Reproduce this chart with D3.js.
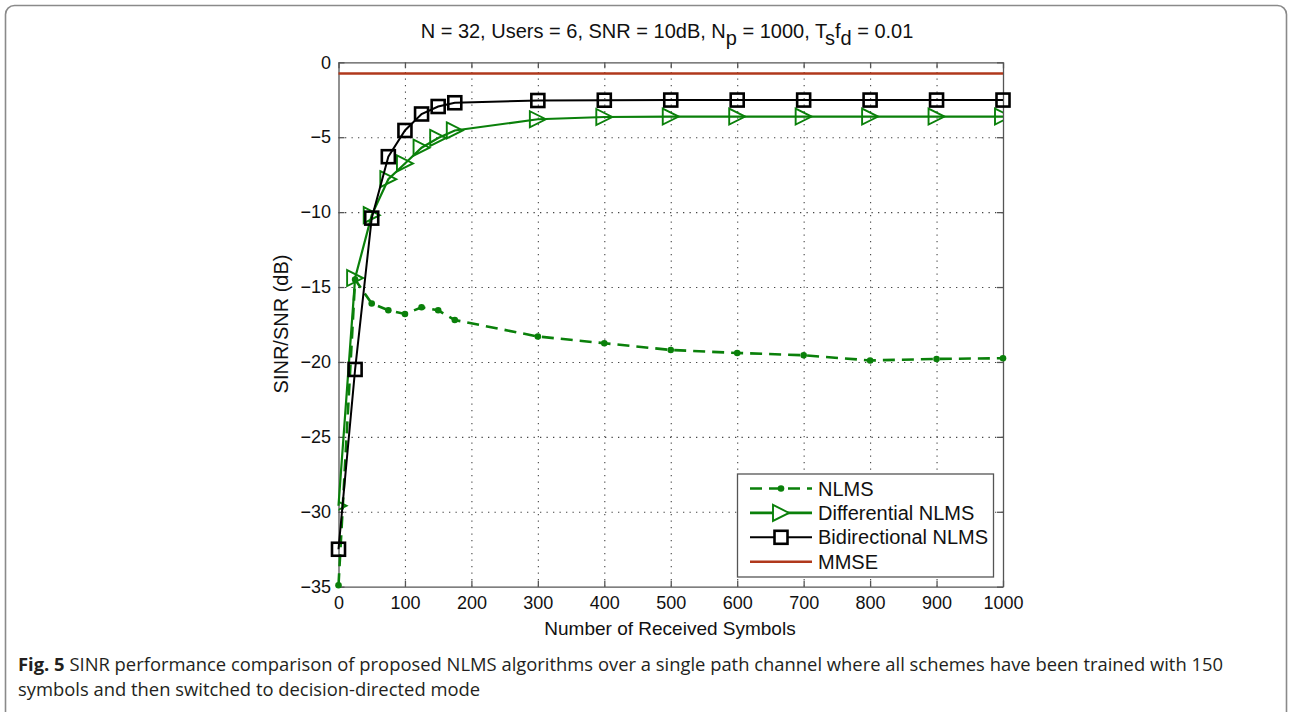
<!DOCTYPE html>
<html>
<head>
  <meta charset="utf-8">
  <title>SINR performance of NLMS algorithms</title>
  <script src="https://d3js.org/d3.v7.min.js"></script>
  <style type="text/css">
    html, body { margin: 0; padding: 0; background: #fff; }
  </style>
</head>
<body>
  <div id="chart"></div>

  <script>
    // received symbols at which SINR was measured
    var symbols = [0, 25, 50, 75, 100, 125, 150, 175, 300, 400, 500, 600, 700, 800, 900, 1000];
    // SINR/SNR in dB for each scheme
    var nlms = [-34.9, -14.5, -16.1, -16.55, -16.8, -16.35, -16.55, -17.2, -18.3, -18.75, -19.2, -19.4, -19.55, -19.9, -19.8, -19.75];
    var diffNlms = [-29.6, -14.4, -10.2, -7.8, -6.75, -5.7, -5.05, -4.55, -3.8, -3.65, -3.62, -3.62, -3.62, -3.62, -3.62, -3.62];
    var bidirNlms = [-32.5, -20.5, -10.4, -6.3, -4.55, -3.45, -2.95, -2.7, -2.55, -2.53, -2.52, -2.52, -2.52, -2.52, -2.52, -2.52];
    var mmse = -0.75;

    var xTicks = [0, 100, 200, 300, 400, 500, 600, 700, 800, 900, 1000];
    var yTicks = [0, -5, -10, -15, -20, -25, -30, -35];
    var legendLabels = ["NLMS", "Differential NLMS", "Bidirectional NLMS", "MMSE"];

    var W = 1291, H = 712;
    var m = { left: 338.5, top: 62.3, right: 1003, bottom: 586.7 };
    var green = "#0a800a", red = "#b0381c";
    var sans = "'Liberation Sans', Arial, sans-serif";

    var svg = d3.select("#chart").append("svg")
      .attr("width", W).attr("height", H)
      .style("font-family", sans);

    // outer frame of the figure
    svg.append("rect")
      .attr("x", 5.5).attr("y", 5.5)
      .attr("width", 1281).attr("height", 740)
      .attr("rx", 9)
      .attr("fill", "none").attr("stroke", "#8a8a8a").attr("stroke-width", 1.6);

    var x = d3.scaleLinear().domain([0, 1000]).range([m.left, m.right]);
    var y = d3.scaleLinear().domain([-35, 0]).range([m.bottom, m.top]);
    var pw = m.right - m.left, ph = m.bottom - m.top;

    svg.append("clipPath").attr("id", "plotclip")
      .append("rect").attr("x", m.left).attr("y", m.top).attr("width", pw).attr("height", ph);

    //网格
    svg.append("g")
      .attr("transform", "translate(0," + m.bottom + ")")
      .call(d3.axisBottom(x).tickValues(xTicks.slice(1, -1)).tickSize(-ph).tickFormat(""))
      .call(g => g.select(".domain").remove())
      .selectAll("line")
      .attr("stroke", "#444").attr("stroke-width", 1.1).attr("stroke-dasharray", "1.3,5.2");
    svg.append("g")
      .attr("transform", "translate(" + m.left + ",0)")
      .call(d3.axisLeft(y).tickValues(yTicks.slice(1, -1)).tickSize(-pw).tickFormat(""))
      .call(g => g.select(".domain").remove())
      .selectAll("line")
      .attr("stroke", "#444").attr("stroke-width", 1.1).attr("stroke-dasharray", "1.3,5.2");

    // box axes with inward ticks
    var fmt = d => (d < 0 ? "\u2212" + Math.abs(d) : d);
    var axes = [
      { a: d3.axisBottom(x).tickValues(xTicks).tickFormat(fmt).tickPadding(10), t: "translate(0," + m.bottom + ")" },
      { a: d3.axisTop(x).tickValues(xTicks).tickFormat(""), t: "translate(0," + m.top + ")" },
      { a: d3.axisLeft(y).tickValues(yTicks).tickFormat(fmt).tickPadding(7.5), t: "translate(" + m.left + ",0)" },
      { a: d3.axisRight(y).tickValues(yTicks).tickFormat(""), t: "translate(" + m.right + ",0)" }
    ];
    axes.forEach(function (ax) {
      var g = svg.append("g").attr("transform", ax.t)
        .call(ax.a.tickSizeInner(-6).tickSizeOuter(0));
      g.attr("font-family", null).attr("font-size", null);
      g.select(".domain").attr("stroke", "#555").attr("stroke-width", 1.3);
      g.selectAll("line").attr("stroke", "#555").attr("stroke-width", 1.3);
      g.selectAll("text").style("font-size", "18px").attr("fill", "#111");
    });

    var plot = svg.append("g");
    var line = d3.line().x(d => x(d[0])).y(d => y(d[1]));
    var pts = vals => symbols.map((s, i) => [s, vals[i]]);

    // MMSE bound
    plot.append("path")
      .attr("d", line([[0, mmse], [1000, mmse]]))
      .attr("fill", "none").attr("stroke", red).attr("stroke-width", 2.6);

    // NLMS, dashed with dots
    plot.append("path")
      .attr("d", line(pts(nlms)))
      .attr("fill", "none").attr("stroke", green).attr("stroke-width", 2.6)
      .attr("stroke-dasharray", "12,7");
    plot.selectAll(".nlms-dot")
      .data(pts(nlms))
      .join("circle")
      .attr("class", "nlms-dot")
      .attr("cx", d => x(d[0])).attr("cy", d => y(d[1])).attr("r", 3.3)
      .attr("fill", green);

    // differential NLMS with right triangles
    var tri = function (cx, cy, s) {
      return "M" + (cx - s) + "," + (cy - s) + "L" + (cx + s) + "," + cy + "L" + (cx - s) + "," + (cy + s) + "Z";
    };
    plot.append("path")
      .attr("d", line(pts(diffNlms)))
      .attr("fill", "none").attr("stroke", green).attr("stroke-width", 2.2);
    plot.append("g").attr("clip-path", "url(#plotclip)")
      .selectAll("path")
      .data(pts(diffNlms))
      .join("path")
      .attr("d", d => tri(x(d[0]), y(d[1]), 8))
      .attr("fill", "none").attr("stroke", green).attr("stroke-width", 1.9);

    // bidirectional NLMS with squares
    plot.append("path")
      .attr("d", line(pts(bidirNlms)))
      .attr("fill", "none").attr("stroke", "#000").attr("stroke-width", 2);
    plot.selectAll(".bi-sq")
      .data(pts(bidirNlms))
      .join("rect")
      .attr("class", "bi-sq")
      .attr("x", d => x(d[0]) - 6.5).attr("y", d => y(d[1]) - 6.5)
      .attr("width", 13).attr("height", 13)
      .attr("fill", "none").attr("stroke", "#000").attr("stroke-width", 2.6);

    // legend
    var lg = svg.append("g");
    lg.append("rect")
      .attr("x", 737.5).attr("y", 474).attr("width", 256).attr("height", 103)
      .attr("fill", "#fff").attr("stroke", "#555").attr("stroke-width", 1.3);
    var rowY = d3.scalePoint().domain(legendLabels).range([488.5, 561.7]);
    var lx0 = 750, lx1 = 812, lxm = (lx0 + lx1) / 2;
    legendLabels.forEach(function (lab, i) {
      var yy = rowY(lab);
      var col = i < 2 ? green : (i === 2 ? "#000" : red);
      var seg = lg.append("line")
        .attr("x1", lx0).attr("x2", lx1).attr("y1", yy).attr("y2", yy)
        .attr("stroke", col).attr("stroke-width", i === 2 ? 2 : 2.6);
      if (i === 0) {
        seg.attr("stroke-dasharray", "12,7");
        lg.append("circle").attr("cx", lxm).attr("cy", yy).attr("r", 3.3).attr("fill", green);
      }
      if (i === 1) {
        lg.append("path").attr("d", tri(lxm, yy, 8)).attr("fill", "#fff")
          .attr("stroke", green).attr("stroke-width", 1.9);
      }
      if (i === 2) {
        lg.append("rect").attr("x", lxm - 6.5).attr("y", yy - 6.5).attr("width", 13).attr("height", 13)
          .attr("fill", "#fff").attr("stroke", "#000").attr("stroke-width", 2.6);
      }
      lg.append("text")
        .attr("x", 818).attr("y", yy + 7)
        .style("font-size", "20px")
        .attr("fill", "#111")
        .text(lab);
    });

    // title with subscripts
    var title = svg.append("text")
      .attr("x", 667).attr("y", 38)
      .attr("text-anchor", "middle")
      .attr("fill", "#111")
      .style("font-size", "20px");
    title.append("tspan").text("N = 32, Users = 6, SNR = 10dB, N");
    title.append("tspan").attr("dy", 7).text("p");
    title.append("tspan").attr("dy", -7).text(" = 1000, T");
    title.append("tspan").attr("dy", 7).text("s");
    title.append("tspan").attr("dy", -7).text("f");
    title.append("tspan").attr("dy", 7).text("d");
    title.append("tspan").attr("dy", -7).text(" = 0.01");

    // axis labels
    svg.append("text")
      .attr("x", 670).attr("y", 635)
      .attr("text-anchor", "middle")
      .attr("fill", "#111")
      .style("font-size", "19px")
      .text("Number of Received Symbols");
    svg.append("text")
      .attr("transform", "translate(288,324) rotate(-90)")
      .attr("text-anchor", "middle")
      .attr("fill", "#111")
      .style("font-size", "20px")
      .text("SINR/SNR (dB)");

    // figure caption, both lines squeezed by the same factor
    var capFont = "'Open Sans', sans-serif";
    var cap1 = svg.append("text")
      .attr("x", 18).attr("y", 671)
      .style("font-size", "18px")
      .style("font-family", capFont)
      .attr("fill", "#231f20");
    cap1.append("tspan").attr("font-weight", "bold").text("Fig. 5");
    cap1.append("tspan").text(" SINR performance comparison of proposed NLMS algorithms over a single path channel where all schemes have been trained with 150");
    var cap2 = svg.append("text")
      .attr("x", 18).attr("y", 696)
      .style("font-size", "18px")
      .style("font-family", capFont)
      .attr("fill", "#231f20")
      .text("symbols and then switched to decision-directed mode");
    var squeeze = 1205 / cap1.node().getComputedTextLength();
    cap1.attr("textLength", 1205).attr("lengthAdjust", "spacingAndGlyphs");
    cap2.attr("textLength", cap2.node().getComputedTextLength() * squeeze).attr("lengthAdjust", "spacingAndGlyphs");
  </script>
</body>
</html>
